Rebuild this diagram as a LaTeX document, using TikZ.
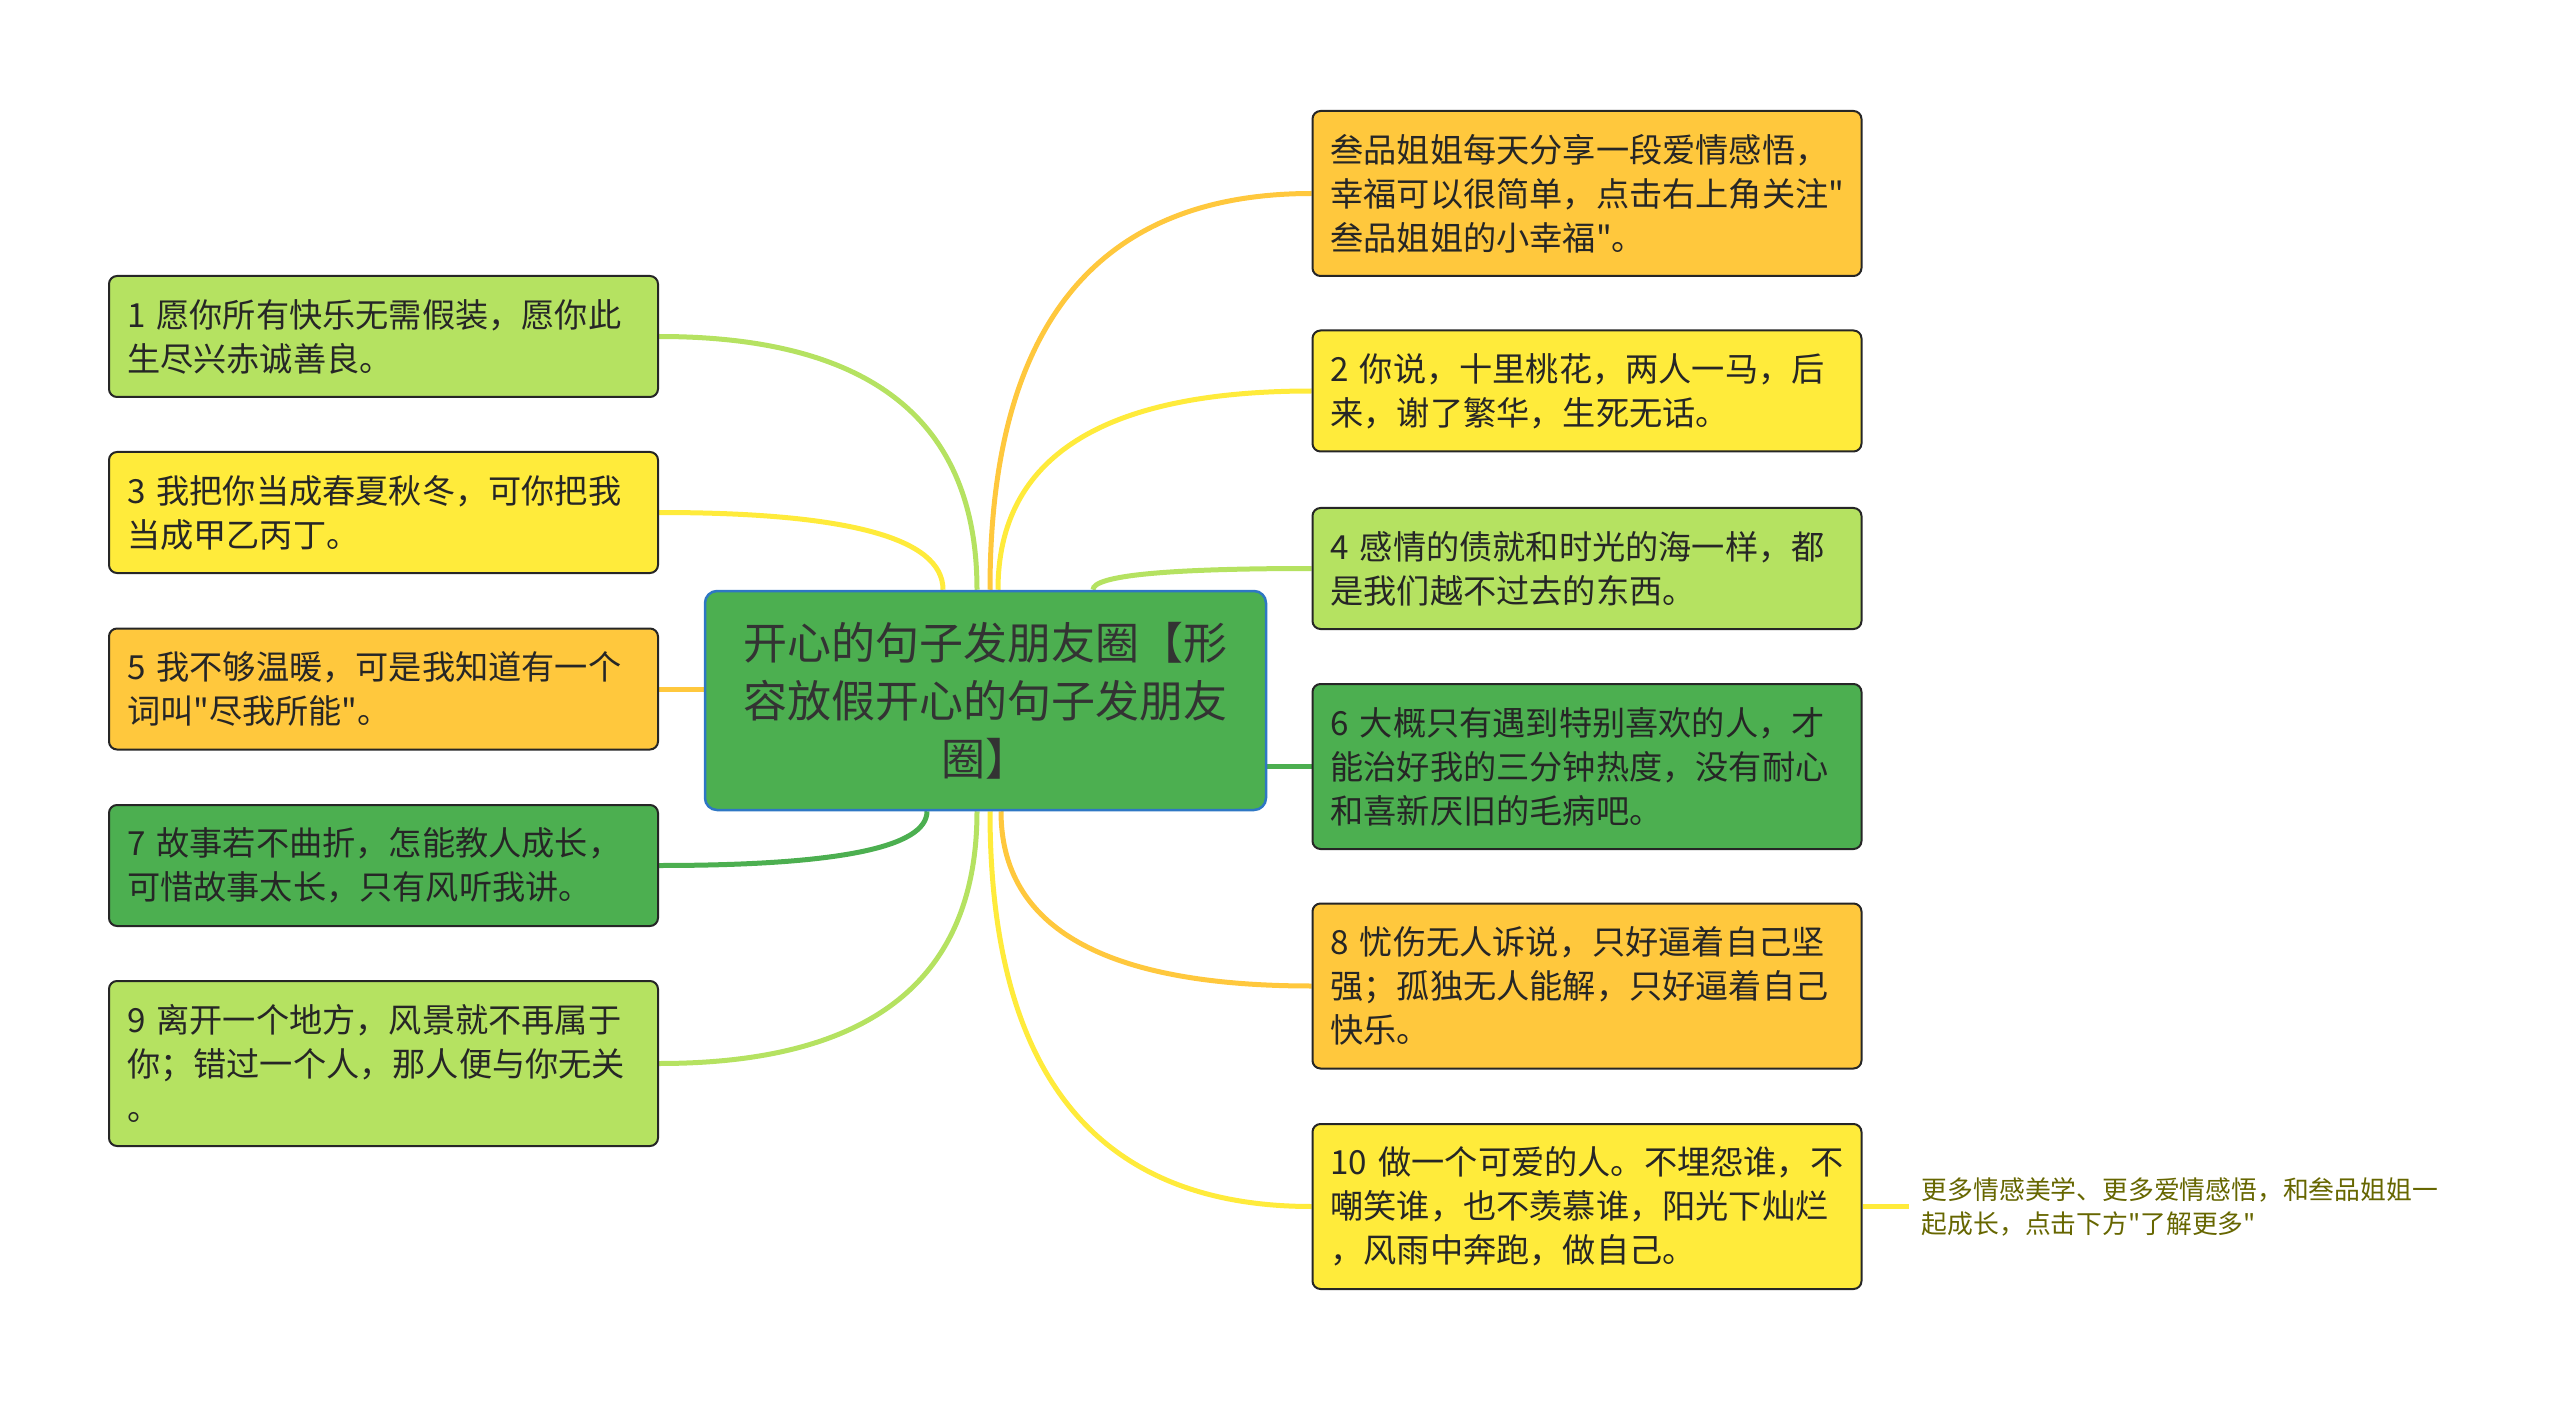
\documentclass[tikz,border=0pt]{standalone}
\usepackage{fontspec}
\setmainfont{Noto Sans CJK SC}[Ligatures=TeXOff]
\usetikzlibrary{calc,backgrounds}
\definecolor{leafgreen}{HTML}{B5E261}
\definecolor{leafyellow}{HTML}{FFEB3B}
\definecolor{leaforange}{HTML}{FFC83D}
\definecolor{leafdark}{HTML}{4CAF50}
\definecolor{rootblue}{HTML}{2E77C4}
\definecolor{tipolive}{HTML}{666600}
\tikzset{
  leaf/.style = {draw=black!85, line width=1pt, rounded corners=4pt,
                 minimum width=274.5pt, minimum height=60.5pt,
                 text width=256.5pt, inner xsep=9pt, align=left,
                 text=black!85, font=\fontsize{16.6}{22}\selectfont},
  rootbox/.style = {draw=rootblue, line width=1.25pt, fill=leafdark,
                 rounded corners=6pt, minimum width=280.5pt,
                 minimum height=109.5pt, align=center,
                 text=black!80, font=\fontsize{22}{29}\selectfont},
  tipnote/.style = {inner xsep=6.5pt, inner ysep=0pt, align=left,
                 text=tipolive, font=\fontsize{12.9}{17}\selectfont},
  link/.style = {line width=2.5pt}
}
% curved branch: colour, start, end
\newcommand\branch[3]{%
  \draw[link, #1] (#2) .. controls ($(#2)!0.667!(#2 |- #3)$)
    and ($(#3)!0.667!(#2 |- #3)$) .. (#3);}

\begin{document}
\begin{tikzpicture}[x=0.5pt, y=-0.5pt]
	\def\lx{383.5}
	\def\rx{1587}
	\useasboundingbox (0,0) rectangle (2560,1401);

	% Root
	\node[rootbox] (root) at (985.5,700.5) {开心的句子发朋友圈【形\\容放假开心的句子发朋友\\圈】};

	% Left branches
	\node[leaf, fill=leafgreen] (n1) at (\lx,336.5) {1 愿你所有快乐无需假装，愿你此\\生尽兴赤诚善良。};
	\node[leaf, fill=leafyellow] (n3) at (\lx,512.5) {3 我把你当成春夏秋冬，可你把我\\当成甲乙丙丁。};
	\node[leaf, fill=leaforange] (n5) at (\lx,689) {5 我不够温暖，可是我知道有一个\\词叫"尽我所能"。};
	\node[leaf, fill=leafdark] (n7) at (\lx,865.5) {7 故事若不曲折，怎能教人成长，\\可惜故事太长，只有风听我讲。};
	\node[leaf, fill=leafgreen, minimum height=82.5pt] (n9) at (\lx,1063.5) {9 离开一个地方，风景就不再属于\\你；错过一个人，那人便与你无关\\。};

	% Right branches
	\node[leaf, fill=leaforange, minimum height=82.5pt] (n0) at (\rx,193.5) {叁品姐姐每天分享一段爱情感悟，\\幸福可以很简单，点击右上角关注"\\叁品姐姐的小幸福"。};
	\node[leaf, fill=leafyellow] (n2) at (\rx,391) {2 你说，十里桃花，两人一马，后\\来，谢了繁华，生死无话。};
	\node[leaf, fill=leafgreen] (n4) at (\rx,568.5) {4 感情的债就和时光的海一样，都\\是我们越不过去的东西。};
	\node[leaf, fill=leafdark, minimum height=82.5pt] (n6) at (\rx,766.5) {6 大概只有遇到特别喜欢的人，才\\能治好我的三分钟热度，没有耐心\\和喜新厌旧的毛病吧。};
	\node[leaf, fill=leaforange, minimum height=82.5pt] (n8) at (\rx,986) {8 忧伤无人诉说，只好逼着自己坚\\强；孤独无人能解，只好逼着自己\\快乐。};
	\node[leaf, fill=leafyellow, minimum height=82.5pt] (n10) at (\rx,1206.5) {10 做一个可爱的人。不埋怨谁，不\\嘲笑谁，也不羡慕谁，阳光下灿烂\\，风雨中奔跑，做自己。};

	% Note
	\node[tipnote, anchor=west] (tip) at ($(n10.east)+(46,0)$) {更多情感美学、更多爱情感悟，和叁品姐姐一\\起成长，点击下方"了解更多"};

	\begin{pgfonlayer}{background}
	% Start points on root
	\coordinate (t3) at ($(root.north)+(-42.5,0)$);
	\coordinate (t1) at ($(root.north)+(-8.5,0)$);
	\coordinate (t0) at ($(root.north)+(4.5,0)$);
	\coordinate (t2) at ($(root.north)+(12.5,0)$);
	\coordinate (t4) at ($(root.north)+(107.5,0)$);
	\coordinate (b7) at ($(root.south)+(-58.5,0)$);
	\coordinate (b9) at ($(root.south)+(-8.5,0)$);
	\coordinate (b10) at ($(root.south)+(4.5,0)$);
	\coordinate (b8) at ($(root.south)+(15.5,0)$);

	% Links left
	\branch{leafgreen}{t1}{n1.east}
	\branch{leafyellow}{t3}{n3.east}
	\draw[link, leaforange] (root.west |- n5.east) -- (n5.east);
	\branch{leafdark}{b7}{n7.east}
	\branch{leafgreen}{b9}{n9.east}

	% Links right
	\branch{leaforange}{t0}{n0.west}
	\branch{leafyellow}{t2}{n2.west}
	\branch{leafgreen}{t4}{n4.west}
	\draw[link, leafdark] (root.east |- n6.west) -- (n6.west);
	\branch{leaforange}{b8}{n8.west}
	\branch{leafyellow}{b10}{n10.west}
	\draw[link, leafyellow] (n10.east) -- (tip.west);
	\end{pgfonlayer}
\end{tikzpicture}
\end{document}
